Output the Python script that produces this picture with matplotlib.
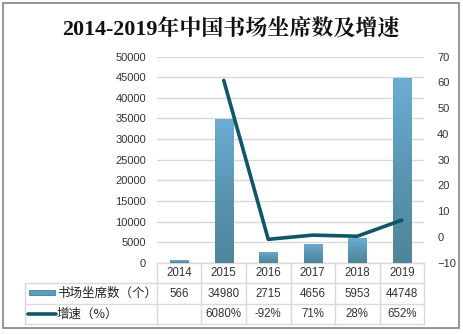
import matplotlib
matplotlib.use("Agg")
import matplotlib.pyplot as plt
import numpy as np
from matplotlib.colors import LinearSegmentedColormap
from matplotlib.patches import Rectangle
import matplotlib.transforms as mtransforms

plt.rcParams['font.family'] = ['Liberation Sans', 'Noto Sans CJK SC', 'DejaVu Sans']

years = ["2014", "2015", "2016", "2017", "2018", "2019"]
seats = [566, 34980, 2715, 4656, 5953, 44748]
growth = [None, 60.80, -0.92, 0.71, 0.28, 6.52]
growth_labels = ["", "6080%", "-92%", "71%", "28%", "652%"]
bar_name = "书场坐席数（个）"
line_name = "增速（%）"
title = "2014-2019年中国书场坐席数及增速"

W, H = 464, 334
fig = plt.figure(figsize=(W / 100, H / 100), dpi=100)

# outer border
fig.patches.append(Rectangle((3 / W, 6 / H), 456 / W, 325 / H, transform=fig.transFigure,
                             fill=False, edgecolor='#8c8c8c', linewidth=1.3))

ax_l, ax_r, ax_t, ax_b = 157, 424, 56.7, 262.7
ax = fig.add_axes([ax_l / W, 1 - ax_b / H, (ax_r - ax_l) / W, (ax_b - ax_t) / H])
ax2 = ax.twinx()

x = np.arange(len(years))
ax.set_xlim(-0.5, len(years) - 0.5)
ax.set_ylim(0, 50000)
ax.set_yticks(np.arange(0, 50001, 5000))
ax2.set_ylim(-10, 70)
ax2.set_yticks(np.arange(-10, 71, 10))

for a in (ax, ax2):
    for s in a.spines.values():
        s.set_visible(False)
    a.tick_params(length=0, labelsize=8, colors='#333333')
ax.tick_params(axis='y', pad=8)
ax2.tick_params(axis='y', pad=9.5)
ax.set_xticks([])
ax.yaxis.grid(True, color='#d9d9d9', linewidth=1)
ax.set_axisbelow(True)

bars = ax.bar(x, seats, width=0.41, color='#5b9dbd', edgecolor='#4a7f96', linewidth=0.6, zorder=2)
cmap = LinearSegmentedColormap.from_list('g', ['#4d8599', '#5a96b2', '#6aaed2'])
grad = np.linspace(0, 1, 256).reshape(-1, 1)
for b in bars:
    bx, by = b.get_x(), b.get_y()
    bw, bh = b.get_width(), b.get_height()
    im = ax.imshow(grad, cmap=cmap, origin='lower', aspect='auto',
                   extent=[bx, bx + bw, by, by + bh], zorder=2.1)
    im.set_clip_path(b)
ax.set_xlim(-0.5, len(years) - 0.5)
ax.set_ylim(0, 50000)

gx = [i for i, g in enumerate(growth) if g is not None]
gy = [g for g in growth if g is not None]
ax2.plot(gx, gy, color='#0e5668', linewidth=2.6, solid_capstyle='round', zorder=3)

# data table
trans = mtransforms.blended_transform_factory(ax.transData, fig.transFigure)
def fy(py):
    return 1 - py / H

grid_c = '#d9d9d9'
row_top, r1, r2, r3 = 262.5, 283, 303.5, 324
legend_left = -0.5 - (ax_l - 25) / ((ax_r - ax_l) / len(years))
kw = dict(transform=trans, color=grid_c, linewidth=1, clip_on=False)
ax.add_line(plt.Line2D([-0.5, 5.5], [fy(row_top)] * 2, **kw))
for yy in (r1, r2, r3):
    ax.add_line(plt.Line2D([legend_left, 5.5], [fy(yy)] * 2, **kw))
ax.add_line(plt.Line2D([legend_left, legend_left], [fy(r1), fy(r3)], **kw))
for xb in np.arange(-0.5, 6.0, 1.0):
    ax.add_line(plt.Line2D([xb, xb], [fy(row_top), fy(r3)], **kw))

tkw = dict(transform=trans, ha='center', va='center', fontsize=8.3, color='#333333')
for i in range(len(years)):
    ax.text(i, fy((row_top + r1) / 2 + 0.5), years[i], **tkw)
    ax.text(i, fy((r1 + r2) / 2 + 0.5), str(seats[i]), **tkw)
    ax.text(i, fy((r2 + r3) / 2 + 0.5), growth_labels[i], **tkw)

# legend keys
fig.patches.append(Rectangle((29 / W, fy(295)), 26 / W, 5 / H, transform=fig.transFigure,
                             facecolor='#5b9dbd', edgecolor='#4a7f96', linewidth=0.6))
fig.lines.append(plt.Line2D([28 / W, 56 / W], [fy(314)] * 2, transform=fig.transFigure,
                            color='#0e5668', linewidth=2.6, solid_capstyle='round'))
fig.text(57 / W, fy(293.5), bar_name, ha='left', va='center', fontsize=9,
         family=['Noto Sans CJK SC', 'DejaVu Sans'], color='#222222')
fig.text(57 / W, fy(314), line_name, ha='left', va='center', fontsize=9,
         family=['Noto Sans CJK SC', 'DejaVu Sans'], color='#222222')

fig.text(230.5 / W, fy(28.5), title, ha='center', va='center', fontsize=15.8, fontweight='bold',
         family=['Liberation Serif', 'Noto Serif CJK SC', 'Noto Sans CJK SC'], color='#111111')

fig.savefig('out.png', dpi=100)
